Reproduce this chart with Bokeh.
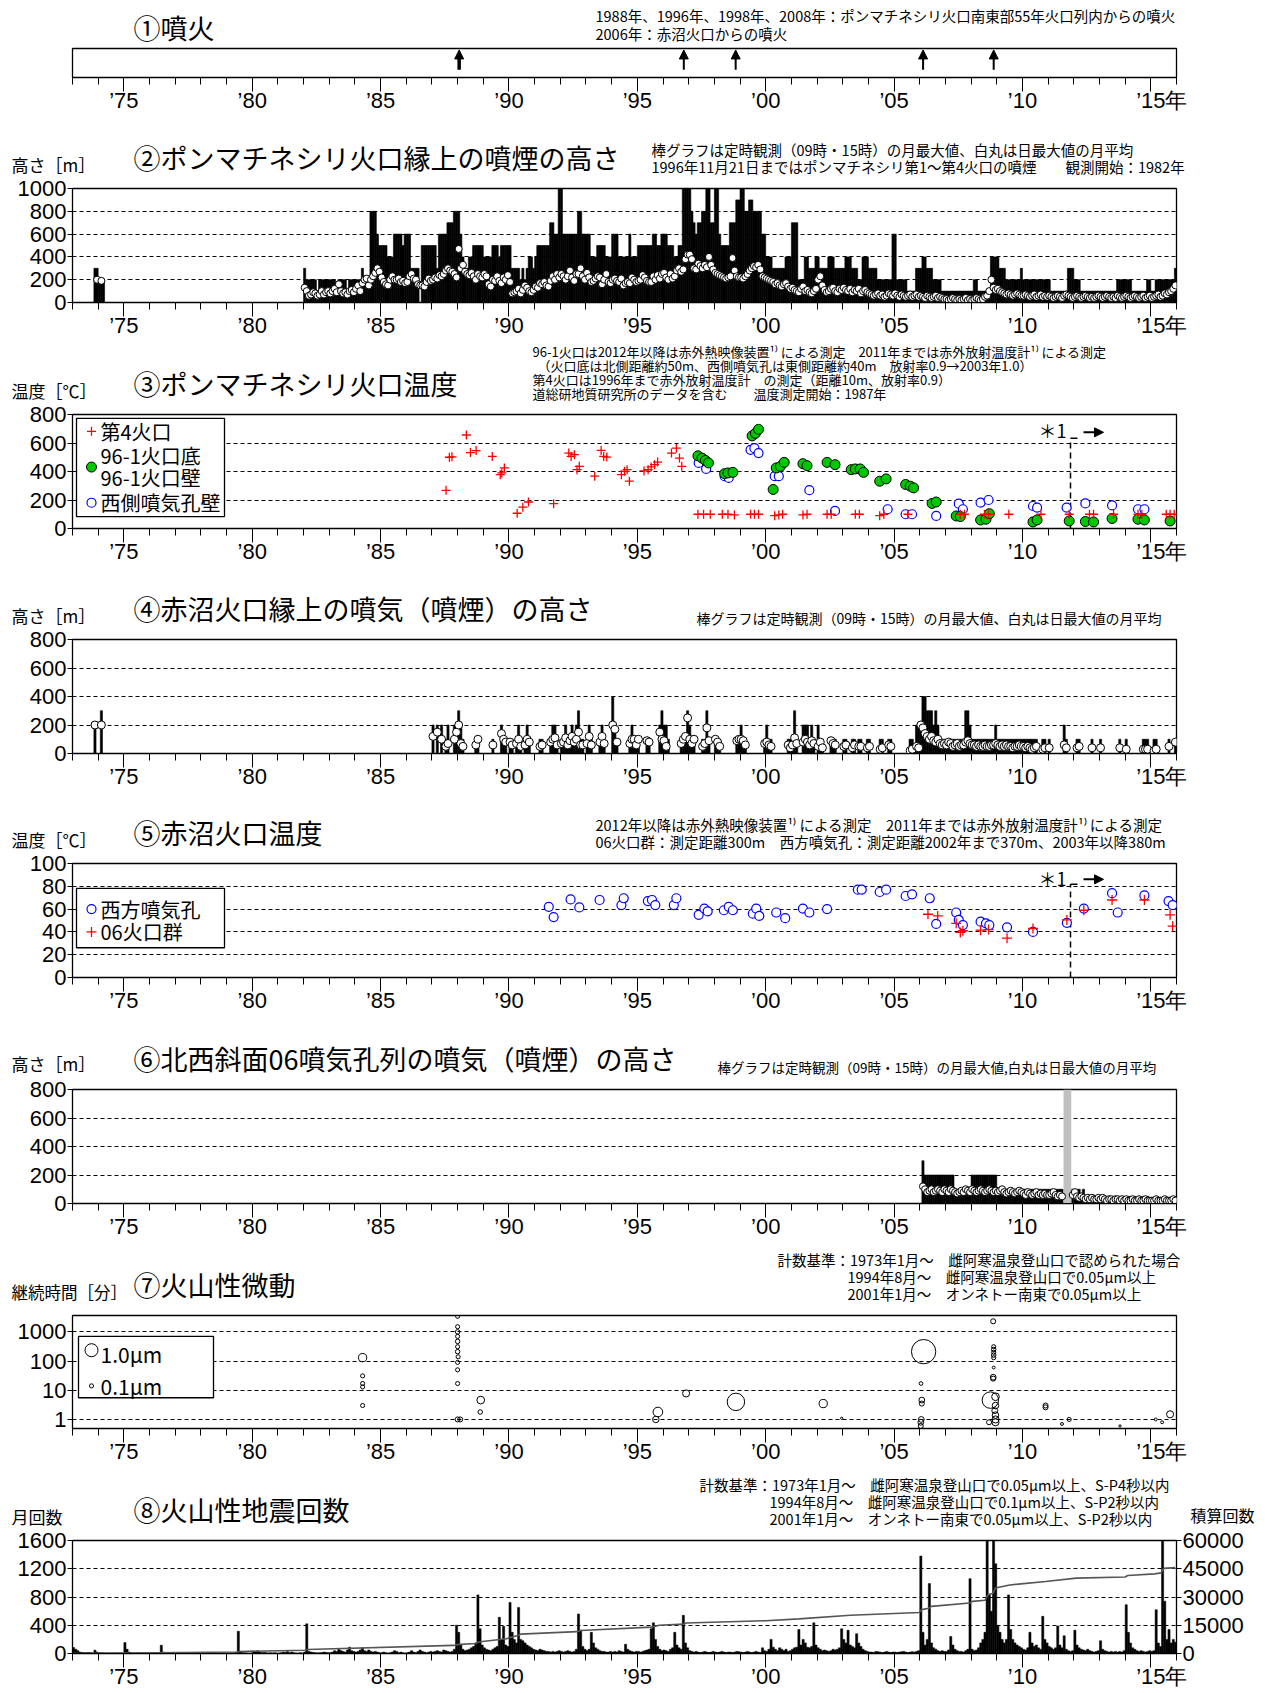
import math
from bokeh.plotting import figure
from bokeh.models import Range1d, FixedTicker, Label, Arrow, NormalHead, LinearAxis
from bokeh.layouts import column
from bokeh.embed import file_html
from bokeh.resources import INLINE

JP = "Noto Sans CJK JP"
NUM = "Liberation Sans"

# ---------------- axis data ----------------
YEARS_MAJOR = [1975, 1980, 1985, 1990, 1995, 2000, 2005, 2010, 2015]
YEAR_LABELS = ["’75", "’80", "’85", "’90", "’95", "’00", "’05", "’10", "　’15年"]
YEARS_MINOR = list(range(1973, 2017))

# ---------------- (1) eruptions ----------------
erupt_t = [1988.06, 1996.81, 1998.83, 2006.13, 2008.88]

# ---------------- (2) Ponmachineshiri plume height (m) ----------------
p2_early_start = 1973 + 10 / 12
p2_early_bar = [300, 300, 200, 200, 200]
p2_early_circ = [0, 200, 0, 190, 0]
p2_start = 1982
p2_bar = [  # hundreds of metres, monthly max
    3, 2, 2, 2, 2, 2, 1, 2, 2, 2, 2, 2,
    2, 2, 2, 1, 2, 2, 2, 2, 1, 2, 2, 2,
    2, 2, 2, 3, 2, 2, 2, 8, 8, 8, 6, 5,
    5, 5, 5, 4, 4, 4, 6, 6, 6, 6, 5, 6,
    6, 6, 3, 3, 3, 3, 0, 5, 5, 5, 5, 5,
    5, 5, 3, 6, 6, 6, 6, 7, 7, 7, 8, 8,
    8, 6, 4, 3, 3, 4, 4, 5, 5, 5, 5, 5,
    4, 4, 4, 4, 5, 5, 5, 4, 5, 5, 5, 5,
    5, 3, 3, 3, 3, 2, 3, 2, 3, 4, 4, 3,
    4, 5, 5, 5, 5, 5, 5, 7, 7, 6, 6, 10,
    10, 6, 6, 6, 6, 6, 6, 6, 8, 8, 6, 6,
    6, 6, 4, 4, 4, 5, 5, 5, 5, 4, 4, 4,
    6, 6, 6, 4, 4, 4, 4, 4, 6, 4, 4, 4,
    5, 5, 5, 5, 5, 5, 5, 6, 6, 5, 5, 6,
    6, 6, 5, 5, 5, 4, 4, 5, 5, 10, 10, 10,
    10, 8, 7, 6, 7, 7, 8, 8, 10, 10, 7, 7,
    10, 10, 6, 5, 5, 5, 5, 7, 7, 7, 9, 9,
    10, 10, 8, 8, 9, 9, 8, 8, 8, 8, 6, 6,
    4, 4, 4, 3, 3, 3, 3, 3, 3, 4, 4, 4,
    7, 7, 7, 2, 2, 2, 4, 4, 3, 3, 3, 4,
    4, 3, 3, 3, 3, 4, 4, 4, 3, 3, 3, 3,
    3, 4, 4, 4, 3, 3, 3, 2, 2, 4, 4, 4,
    3, 3, 3, 3, 2, 2, 2, 2, 2, 2, 2, 6,
    6, 2, 2, 2, 2, 2, 1, 1, 1, 1, 3, 3,
    3, 4, 4, 3, 3, 3, 2, 2, 2, 2, 1, 1,
    1, 1, 1, 1, 1, 1, 1, 1, 1, 1, 1, 1,
    1, 2, 2, 1, 1, 1, 1, 1, 1, 4, 4, 4,
    4, 3, 3, 3, 2, 2, 2, 2, 2, 2, 2, 3,
    2, 2, 2, 2, 2, 2, 2, 2, 2, 2, 2, 2,
    2, 1, 1, 1, 1, 1, 1, 1, 1, 3, 3, 3,
    2, 2, 2, 1, 1, 1, 1, 1, 1, 1, 1, 1,
    1, 1, 1, 1, 1, 1, 1, 1, 2, 2, 2, 2,
    2, 2, 2, 1, 1, 1, 1, 1, 1, 1, 2, 2,
    1, 1, 2, 2, 2, 2, 2, 2, 2, 2, 2, 3,
]
p2_circ = [  # metres, monthly mean of daily max
    130, 100, 60, 70, 90, 80, 60, 70, 100, 70, 90, 100,
    80, 100, 120, 90, 160, 100, 80, 90, 70, 100, 110, 90,
    120, 150, 100, 170, 200, 210, 150, 200, 230, 260, 300, 270,
    220, 180, 160, 150, 200, 230, 200, 200, 210, 180, 190, 170,
    180, 230, 250, 210, 200, 160, 150, 150, 140, 180, 210, 190,
    200, 220, 210, 240, 230, 250, 280, 300, 280, 270, 250, 220,
    470, 300, 330, 270, 250, 240, 260, 230, 200, 250, 230, 220,
    250, 230, 160, 140, 200, 190, 230, 190, 170, 220, 200, 240,
    180, 80, 90, 100, 120, 80, 110, 150, 130, 100, 90, 110,
    140, 130, 170, 160, 180, 150, 140, 190, 230, 200, 250, 220,
    250, 230, 200, 230, 280, 220, 190, 250, 250, 300, 230, 200,
    260, 220, 180, 190, 210, 230, 220, 160, 200, 250, 180, 170,
    200, 210, 190, 180, 210, 150, 170, 180, 170, 220, 200, 180,
    190, 200, 240, 220, 190, 180, 180, 230, 200, 240, 210, 250,
    260, 220, 200, 250, 210, 230, 280, 300, 270, 290, 380, 420,
    420, 380, 300, 290, 340, 320, 300, 330, 310, 400, 330, 290,
    260, 250, 240, 230, 220, 210, 220, 230, 390, 280, 230, 220,
    220, 210, 230, 250, 280, 300, 320, 310, 330, 290, 230, 220,
    210, 200, 190, 180, 160, 170, 150, 140, 160, 170, 140, 120,
    130, 110, 100, 90, 120, 140, 100, 110, 90, 80, 100, 120,
    200, 230, 150, 110, 90, 100, 120, 130, 100, 90, 120, 110,
    130, 110, 100, 120, 90, 110, 100, 120, 80, 100, 110, 90,
    80, 70, 60, 70, 80, 60, 70, 50, 60, 80, 70, 60,
    80, 60, 50, 70, 60, 50, 60, 70, 50, 60, 70, 50,
    60, 50, 40, 60, 50, 40, 50, 60, 40, 50, 40, 30,
    30, 20, 30, 40, 30, 20, 30, 20, 30, 40, 20, 30,
    20, 30, 40, 30, 20, 30, 50, 60, 100, 200, 130, 110,
    120, 100, 90, 80, 70, 80, 70, 60, 70, 80, 70, 60,
    60, 70, 60, 50, 60, 70, 50, 60, 70, 50, 60, 50,
    60, 50, 40, 50, 60, 50, 40, 60, 70, 60, 50, 40,
    50, 60, 50, 40, 50, 60, 50, 40, 50, 40, 50, 60,
    50, 40, 50, 60, 50, 40, 50, 40, 60, 50, 40, 50,
    60, 50, 40, 50, 60, 50, 40, 50, 60, 40, 50, 60,
    40, 50, 60, 70, 50, 60, 80, 70, 90, 100, 120, 150,
]

# ---------------- (3) Ponmachineshiri crater temperature (deg C) ----------------
p3_red_t = [1987.55, 1987.68, 1987.78, 1988.34, 1988.5, 1988.72, 1989.35, 1989.66, 1989.72, 1989.82,
            1990.32, 1990.54, 1990.76, 1991.74, 1992.33, 1992.42, 1992.55, 1992.65, 1992.74, 1993.34,
            1993.59, 1993.69, 1993.81, 1994.38, 1994.5, 1994.6, 1994.69, 1995.26, 1995.42, 1995.54,
            1995.67, 1995.79, 1996.33, 1996.52, 1996.64, 1996.73,
            1997.36, 1997.58, 1997.84, 1998.31, 1998.53, 1998.78, 1999.41, 1999.56, 1999.72, 2000.35,
            2000.51, 2000.66, 2001.45, 2001.61, 2002.39, 2002.55, 2003.49, 2003.65, 2004.44, 2004.6,
            2005.54, 2007.58, 2007.74, 2008.52, 2008.68, 2009.47, 2010.72, 2011.82, 2012.61, 2012.77,
            2013.55, 2014.5, 2014.65, 2015.6, 2015.75, 2015.91]
p3_red_v = [268, 500, 503, 656, 533, 547, 506, 378, 390, 425,
            107, 150, 186, 174, 529, 506, 518, 413, 436, 367,
            548, 506, 501, 378, 401, 413, 332, 404, 413, 432,
            448, 466, 529, 564, 494, 436,
            100, 100, 100, 100, 100, 95, 100, 100, 100, 90,
            95, 100, 95, 100, 100, 100, 100, 100, 90, 100,
            100, 100, 100, 100, 100, 100, 100, 100, 100, 100,
            100, 100, 100, 100, 100, 100]
p3_grn_t = [1997.36, 1997.52, 1997.65, 1997.77, 1998.4, 1998.53, 1998.72, 1999.47, 1999.6, 1999.72,
            2000.29, 2000.41, 2000.57, 2000.72, 2001.45, 2001.61, 2002.39, 2002.7, 2003.33, 2003.49,
            2003.68, 2003.81, 2004.44, 2004.69, 2005.45, 2005.63, 2005.76, 2006.48, 2006.64, 2007.42,
            2007.58, 2008.37, 2008.58, 2008.71, 2010.41, 2010.57, 2011.82, 2012.45, 2012.77, 2013.49,
            2014.5, 2014.75, 2015.75]
p3_grn_v = [510, 494, 478, 460, 385, 390, 394, 650, 668, 696,
            274, 425, 436, 464, 455, 441, 464, 448, 413, 418,
            418, 394, 332, 348, 309, 297, 285, 176, 186, 88,
            84, 60, 65, 104, 46, 60, 53, 49, 46, 70,
            65, 60, 53]
p3_blu_t = [1997.39, 1997.68, 1998.4, 1998.56, 1999.41, 1999.56, 1999.72, 2000.35, 2000.51, 2001.7,
            2002.7, 2004.75, 2005.45, 2005.7, 2006.64, 2007.52, 2007.68, 2008.37, 2008.68, 2010.41,
            2010.57, 2011.72, 2012.45, 2013.49, 2014.5, 2014.75]
p3_blu_v = [460, 418, 367, 355, 552, 564, 529, 367, 367, 269,
            123, 135, 100, 100, 88, 174, 135, 181, 200, 158,
            146, 146, 176, 162, 135, 135]

# ---------------- (4) Akanuma crater plume height (m) ----------------
p4_early_start = 1973 + 10 / 12
p4_early_bar = [200, 0, 0, 300]
p4_early_circ = [200, 0, 0, 200]
p4_start = 1987
p4_bar = [  # hundreds of metres
    2, 0, 2, 0, 2, 0, 1, 2, 0, 0, 2, 2,
    3, 2, 1, 0, 0, 0, 0, 0, 1, 1, 0, 0,
    0, 0, 0, 0, 1, 0, 0, 0, 2, 1, 1, 0,
    1, 1, 0, 1, 2, 1, 0, 1, 2, 1, 0, 0,
    0, 0, 1, 1, 0, 0, 0, 1, 2, 2, 1, 0,
    1, 1, 2, 1, 1, 2, 1, 2, 3, 1, 1, 0,
    1, 2, 1, 0, 0, 0, 1, 2, 1, 0, 0, 0,
    4, 2, 1, 0, 0, 0, 0, 0, 1, 2, 1, 1,
    1, 0, 0, 0, 1, 1, 0, 0, 0, 0, 2, 3,
    2, 2, 1, 0, 0, 0, 0, 0, 1, 1, 1, 3,
    2, 1, 1, 0, 0, 0, 1, 1, 3, 1, 0, 0,
    1, 1, 1, 0, 0, 0, 0, 0, 0, 0, 1, 1,
    2, 1, 1, 0, 0, 0, 0, 0, 0, 0, 0, 1,
    2, 1, 1, 0, 0, 0, 0, 0, 0, 0, 1, 1,
    1, 3, 1, 0, 0, 2, 2, 2, 1, 2, 1, 0,
    2, 1, 1, 0, 0, 0, 1, 1, 1, 0, 0, 0,
    1, 1, 0, 0, 1, 1, 0, 1, 1, 0, 0, 1,
    1, 0, 0, 0, 0, 1, 1, 0, 0, 1, 1, 0,
    0, 0, 0, 0, 0, 0, 0, 1, 1, 0, 2, 2,
    2, 4, 4, 3, 3, 3, 2, 3, 2, 1, 1, 1,
    1, 1, 1, 1, 1, 1, 1, 1, 1, 3, 3, 2,
    1, 1, 1, 1, 1, 1, 1, 1, 1, 1, 1, 2,
    1, 1, 1, 1, 1, 1, 1, 1, 1, 1, 1, 1,
    1, 1, 1, 1, 1, 1, 1, 0, 0, 1, 1, 0,
    1, 0, 0, 0, 0, 0, 0, 2, 1, 0, 0, 0,
    0, 1, 1, 0, 0, 0, 0, 0, 1, 0, 0, 0,
    1, 0, 0, 0, 0, 0, 0, 0, 0, 1, 0, 0,
    1, 0, 0, 0, 0, 0, 0, 0, 1, 1, 1, 0,
    0, 1, 1, 0, 0, 0, 0, 0, 1, 0, 0, 1,
]
p4_circ = [  # metres, 0 = no observation
    120, 0, 150, 0, 100, 0, 50, 70, 0, 0, 100, 150,
    200, 70, 50, 0, 0, 0, 0, 0, 60, 100, 0, 0,
    0, 0, 0, 0, 60, 0, 0, 0, 140, 100, 80, 0,
    80, 60, 0, 70, 100, 50, 0, 60, 100, 80, 0, 0,
    0, 0, 50, 60, 0, 0, 0, 80, 100, 110, 60, 0,
    70, 80, 110, 60, 90, 120, 80, 100, 150, 60, 60, 0,
    70, 120, 60, 0, 0, 0, 80, 120, 70, 0, 0, 0,
    200, 170, 80, 0, 0, 0, 0, 0, 70, 100, 100, 60,
    100, 0, 0, 0, 90, 80, 0, 0, 0, 0, 150, 100,
    90, 50, 0, 0, 0, 0, 0, 0, 70, 100, 120, 250,
    100, 70, 100, 0, 0, 0, 50, 70, 180, 90, 0, 0,
    100, 80, 50, 0, 0, 0, 0, 0, 0, 0, 90, 100,
    100, 90, 60, 0, 0, 0, 0, 0, 0, 0, 0, 70,
    80, 60, 50, 0, 0, 0, 0, 0, 0, 0, 60, 40,
    60, 110, 70, 0, 0, 80, 100, 80, 60, 90, 70, 0,
    50, 80, 40, 0, 0, 0, 90, 70, 60, 0, 0, 0,
    50, 60, 0, 0, 40, 60, 0, 50, 50, 0, 0, 40,
    50, 0, 0, 0, 0, 30, 40, 0, 0, 60, 50, 0,
    0, 0, 0, 0, 0, 0, 0, 20, 30, 0, 50, 40,
    200, 180, 140, 120, 100, 120, 90, 80, 100, 70, 60, 70,
    60, 80, 70, 50, 60, 70, 50, 60, 60, 80, 90, 70,
    60, 60, 50, 60, 50, 50, 60, 50, 50, 60, 60, 70,
    60, 50, 60, 50, 60, 50, 50, 40, 50, 50, 60, 50,
    50, 40, 50, 40, 30, 40, 50, 0, 0, 30, 40, 0,
    40, 0, 0, 0, 0, 0, 0, 60, 40, 0, 0, 0,
    0, 40, 50, 0, 0, 0, 0, 0, 40, 0, 0, 0,
    40, 0, 0, 0, 0, 0, 0, 0, 0, 40, 0, 0,
    30, 0, 0, 0, 0, 0, 0, 0, 30, 30, 30, 0,
    0, 20, 30, 0, 0, 0, 0, 0, 50, 0, 0, 80,
]

# ---------------- (5) Akanuma crater temperature (deg C) ----------------
p5_blu_t = [1991.55, 1991.74, 1992.4, 1992.74, 1993.53, 1994.38, 1994.47, 1995.41, 1995.57, 1995.7,
            1996.42, 1996.52, 1997.39, 1997.61, 1997.74, 1998.37, 1998.56, 1998.72, 1999.5, 1999.63,
            1999.75, 2000.41, 2000.76, 2001.45, 2001.7, 2002.39, 2003.59, 2003.74, 2004.44, 2004.69,
            2005.45, 2005.7, 2006.39, 2006.64, 2007.42, 2007.52, 2007.68, 2008.37, 2008.58, 2008.71,
            2009.4, 2010.41, 2011.73, 2012.39, 2013.49, 2013.71, 2014.75, 2015.69, 2015.85]
p5_blu_v = [62, 53, 68.5, 61.5, 68, 63.5, 69.5, 67, 68, 63.5,
            63.5, 69.5, 55, 60.5, 58, 59, 62, 59, 56, 60.5,
            54, 57, 52, 60.5, 57, 60, 77, 77, 75, 77,
            71.5, 73, 69.5, 47, 57, 50.5, 46, 49, 47.5, 46,
            44, 40, 48, 60.5, 74, 57, 72, 67, 63.5]
p5_red_t = [2006.32, 2006.7, 2007.42, 2007.58, 2007.68, 2008.37, 2008.68, 2009.4, 2010.41, 2011.73,
            2012.39, 2013.49, 2014.75, 2015.75, 2015.85]
p5_red_v = [55.5, 54, 47.5, 39.5, 41, 41.5, 42, 34.5, 43, 50.5,
            59, 68, 68, 55, 45]

# ---------------- (6) NW slope 06 vents plume height (m) ----------------
p6_start = 2006
p6_bar = [
    0, 300, 200, 200, 200, 200, 200, 200, 200, 200, 200, 200,
    200, 200, 200, 200, 100, 100, 100, 100, 100, 100, 100, 100,
    200, 200, 200, 200, 200, 200, 200, 200, 200, 200, 200, 200,
    100, 100, 100, 100, 100, 100, 100, 100, 100, 100, 100, 100,
    100, 100, 100, 100, 100, 100, 100, 100, 100, 100, 100, 100,
    100, 100, 100, 100, 100, 100, 100, 0, 0, 0, 0, 100,
    100, 100, 100, 50, 100, 50, 50, 50, 50, 50, 50, 50,
    50, 50, 50, 50, 50, 50, 50, 50, 50, 50, 50, 50,
    50, 50, 50, 30, 50, 30, 50, 30, 50, 30, 50, 30,
    30, 30, 30, 30, 30, 30, 30, 30, 30, 30, 30, 30,
]
p6_circ = [
    0, 120, 100, 80, 90, 100, 80, 90, 100, 90, 80, 100,
    90, 80, 100, 90, 80, 70, 80, 90, 80, 100, 90, 80,
    100, 90, 80, 90, 100, 90, 80, 90, 100, 90, 80, 90,
    80, 90, 100, 80, 70, 80, 90, 80, 70, 80, 90, 80,
    70, 60, 80, 70, 60, 70, 80, 60, 70, 60, 70, 60,
    60, 70, 80, 60, 50, 60, 50, 0, 0, 0, 0, 60,
    80, 50, 40, 50, 40, 30, 40, 30, 40, 30, 30, 40,
    30, 40, 30, 20, 30, 30, 20, 30, 30, 20, 30, 20,
    30, 20, 20, 30, 20, 20, 30, 20, 20, 30, 20, 20,
    20, 20, 30, 20, 20, 20, 30, 20, 20, 20, 30, 20,
]
p6_gap = [2011.6, 2011.9]

# ---------------- (7) volcanic tremor ----------------
p7_t = [1984.3, 1984.3, 1984.3, 1984.3, 1984.3,
        1988.0, 1988.0, 1988.0, 1988.0, 1988.0, 1988.0, 1988.0, 1988.02, 1988.0, 1988.0, 1988.0, 1988.0, 1988.1,
        1988.9, 1988.88, 1995.8, 1995.72, 1996.9, 1998.84, 2002.24, 2002.96,
        2006.15, 2006.05, 2006.08, 2006.08, 2006.06, 2006.04, 2006.04,
        2008.86, 2008.88, 2008.88, 2008.88, 2008.88, 2008.88, 2008.88, 2008.86, 2008.86, 2008.75,
        2008.95, 2008.95, 2008.95, 2008.95, 2008.95, 2008.7, 2008.92,
        2010.9, 2010.9, 2011.54, 2011.82, 2013.8, 2015.19, 2015.44, 2015.75]
p7_dur = [131, 31, 17, 13, 3,
          3400, 1500, 1000, 700, 470, 310, 210, 140, 90, 50, 17, 1, 1,
          4.6, 1.8, 1.8, 1.0, 7.8, 4.0, 3.5, 1.1,
          210, 17, 4.6, 3.5, 1.0, 0.8, 0.6,
          2300, 310, 250, 200, 160, 130, 60, 28, 25, 4.6,
          6, 3, 1.4, 1.0, 0.8, 0.8, 2,
          3, 2.6, 0.7, 1.0, 0.6, 1.0, 0.8, 1.5]
p7_amp = [0.4, 0.1, 0.1, 0.1, 0.1,
          0.1, 0.1, 0.12, 0.1, 0.12, 0.1, 0.12, 0.1, 0.1, 0.1, 0.1, 0.15, 0.15,
          0.35, 0.12, 0.55, 0.25, 0.3, 1.8, 0.4, 0.03,
          3.5, 0.08, 0.2, 0.15, 0.2, 0.2, 0.15,
          0.15, 0.1, 0.12, 0.1, 0.12, 0.1, 0.05, 0.2, 0.15, 1.6,
          0.35, 0.25, 0.25, 0.3, 0.3, 0.15, 0.2,
          0.15, 0.15, 0.05, 0.1, 0.03, 0.05, 0.05, 0.3]

# ---------------- (8) volcanic earthquakes ----------------
p8_start = 1973
p8_month = [
    84, 60, 40, 20, 15, 10, 10, 15, 10, 8, 47, 20,
    10, 10, 8, 5, 5, 5, 8, 5, 5, 5, 5, 5,
    154, 60, 20, 10, 8, 8, 10, 5, 5, 5, 5, 5,
    10, 8, 8, 5, 5, 117, 20, 10, 5, 5, 5, 5,
    5, 5, 5, 5, 5, 5, 5, 5, 5, 5, 5, 5,
    5, 5, 5, 5, 5, 8, 5, 5, 5, 5, 5, 5,
    5, 5, 8, 10, 15, 315, 30, 10, 10, 8, 5, 5,
    20, 30, 40, 20, 10, 15, 10, 5, 10, 5, 10, 5,
    5, 10, 20, 15, 30, 10, 20, 10, 5, 5, 10, 5,
    20, 420, 30, 20, 15, 10, 8, 10, 10, 20, 15, 10,
    10, 20, 40, 30, 60, 40, 30, 20, 50, 90, 40, 30,
    20, 30, 50, 80, 40, 30, 50, 30, 20, 30, 20, 10,
    10, 20, 10, 5, 10, 20, 40, 30, 10, 20, 10, 5,
    10, 20, 40, 20, 10, 30, 50, 30, 20, 10, 20, 30,
    20, 30, 40, 30, 20, 50, 40, 30, 20, 30, 60, 400,
    300, 120, 60, 40, 50, 60, 80, 100, 150, 830, 350, 120,
    80, 60, 50, 40, 60, 80, 100, 513, 200, 387, 120, 100,
    723, 300, 200, 150, 653, 200, 180, 150, 120, 100, 80, 60,
    50, 40, 60, 50, 40, 30, 30, 20, 30, 20, 30, 40,
    30, 20, 30, 40, 30, 20, 30, 60, 560, 330, 100, 60,
    40, 60, 300, 150, 80, 60, 40, 30, 30, 20, 20, 30,
    20, 30, 20, 40, 30, 20, 130, 60, 40, 30, 20, 30,
    30, 20, 30, 40, 50, 60, 350, 434, 200, 100, 60, 40,
    50, 40, 30, 60, 80, 300, 120, 80, 60, 540, 150, 80,
    40, 30, 20, 30, 20, 15, 20, 30, 20, 15, 20, 30,
    20, 15, 20, 30, 20, 15, 20, 20, 15, 20, 30, 25,
    20, 15, 20, 30, 20, 15, 20, 30, 20, 15, 80, 40,
    30, 60, 200, 90, 60, 40, 80, 60, 40, 60, 30, 40,
    60, 80, 90, 340, 120, 200, 150, 90, 80, 100, 434, 120,
    80, 60, 40, 50, 40, 30, 40, 60, 50, 60, 80, 350,
    200, 150, 330, 120, 100, 80, 280, 150, 100, 60, 40, 30,
    20, 20, 15, 30, 25, 20, 15, 20, 30, 20, 15, 20,
    20, 15, 20, 25, 30, 20, 15, 20, 25, 20, 30, 40,
    1380, 300, 120, 200, 990, 150, 80, 60, 40, 30, 40, 30,
    30, 50, 240, 120, 60, 40, 30, 30, 20, 40, 60, 1060,
    60, 40, 50, 80, 150, 200, 300, 2800, 830, 600, 3000, 1270,
    400, 300, 200, 150, 200, 830, 340, 200, 150, 120, 100, 80,
    60, 50, 80, 300, 150, 100, 120, 80, 60, 526, 200, 150,
    100, 80, 60, 80, 390, 120, 80, 250, 60, 40, 30, 40,
    330, 120, 80, 60, 50, 40, 60, 40, 30, 20, 30, 40,
    180, 60, 40, 30, 20, 30, 20, 30, 20, 30, 20, 40,
    690, 300, 150, 80, 60, 40, 30, 40, 30, 20, 30, 40,
    30, 40, 620, 150, 100, 2000, 740, 200, 340, 150, 200, 160,
]
p8_cum_t = [1973.0, 1979.4, 1979.5, 1982.05, 1982.15, 1987.85, 1987.95, 1988.7, 1988.8, 1989.9,
            1990.1, 1990.35, 1990.45, 1992.65, 1992.8, 1995.55, 1995.85, 1996.8, 1996.9, 2000.0,
            2001.3, 2003.3, 2005.98, 2006.08, 2006.35, 2006.45, 2007.95, 2008.05, 2008.55, 2008.65,
            2008.85, 2008.95, 2009.5, 2010.9, 2012.1, 2014.0, 2014.1, 2015.15, 2015.4, 2015.5, 2015.95]
p8_cum_v = [0, 800, 1100, 1700, 2100, 4300, 4700, 5300, 6100, 7800,
            8700, 9600, 10300, 11600, 12200, 14000, 15000, 15600, 16200, 17400,
            18400, 20300, 21800, 23300, 24000, 25000, 26800, 27700, 28300, 31000,
            32000, 34800, 36400, 38200, 40000, 40600, 41400, 42300, 42800, 45200, 45600]

# ---------------- layout (page pixels, origin top-left) ----------------
X0, X1 = 1973.0, 2016.0
FL, FR = 72, 1176          # frame left/right
W = 1260
GEOM = {  # block top, frame top, frame bottom, block bottom, gap kept above frame
    1: (0, 48, 78, 115, 2),
    2: (115, 188, 303, 340, 12),
    3: (340, 414, 529, 566, 12),
    4: (566, 639, 754, 791, 12),
    5: (791, 863, 978, 1015, 12),
    6: (1015, 1089, 1204, 1241, 12),
    7: (1241, 1315, 1429, 1466, 12),
    8: (1466, 1540, 1654, 1691, 12),
}
TICK_FONT = "22px"


def monthly(start, vals):
    t, v = [], []
    for i, val in enumerate(vals):
        if val > 0:
            t.append(start + (i + 0.5) / 12)
            v.append(val)
    return t, v


def style_y(ya):
    ya.major_tick_out = 5
    ya.major_tick_in = 0
    ya.minor_tick_out = 0
    ya.minor_tick_in = 0
    ya.major_label_standoff = 1
    ya.major_label_text_font = NUM
    ya.major_label_text_font_size = TICK_FONT
    ya.major_label_text_color = "black"
    ya.axis_line_color = "black"
    ya.major_tick_line_color = "black"


def make_header(top, bottom):
    h = figure(width=W, height=bottom - top, x_range=Range1d(0, W), y_range=Range1d(bottom, top),
               output_backend="svg", toolbar_location=None, title=None,
               x_axis_location=None, y_axis_location=None,
               min_border_left=0, min_border_right=0, min_border_top=0, min_border_bottom=0)
    h.outline_line_color = None
    h.background_fill_color = "white"
    h.border_fill_color = "white"
    for g in h.grid:
        g.visible = False
    return h


class Panel:
    def __init__(self, key, y0, y1, yticks=None, log=False, ytick_labels=None):
        top, FT, FB, bot, gap = GEOM[key]
        self.FT, self.FB, self.y0, self.y1, self.log = FT, FB, y0, y1, log
        self.head = make_header(top, FT - gap)
        p = figure(width=W, height=bot - (FT - gap), x_range=Range1d(X0, X1), y_range=Range1d(y0, y1),
                   y_axis_type="log" if log else "linear", output_backend="svg",
                   toolbar_location=None, title=None,
                   min_border_left=FL, min_border_right=W - FR,
                   min_border_top=gap, min_border_bottom=bot - FB)
        p.background_fill_color = "white"
        p.border_fill_color = "white"
        p.outline_line_color = "black"
        p.outline_line_width = 1.3
        xa = p.xaxis[0]
        xa.ticker = FixedTicker(ticks=YEARS_MAJOR, minor_ticks=YEARS_MINOR)
        xa.major_label_overrides = dict(zip(YEARS_MAJOR, YEAR_LABELS))
        xa.major_tick_out = 14
        xa.major_tick_in = 0
        xa.minor_tick_out = 7
        xa.minor_tick_in = 0
        xa.major_label_standoff = -4
        xa.major_label_text_font = NUM
        xa.major_label_text_font_size = TICK_FONT
        xa.major_label_text_color = "black"
        xa.axis_line_color = "black"
        xa.major_tick_line_color = "black"
        xa.minor_tick_line_color = "black"
        p.xgrid.visible = False
        ya = p.yaxis[0]
        if yticks is not None:
            ya.ticker = FixedTicker(ticks=yticks, minor_ticks=[])
            if ytick_labels is not None:
                ya.major_label_overrides = dict(zip(yticks, ytick_labels))
        style_y(ya)
        p.ygrid.grid_line_color = "black"
        p.ygrid.grid_line_dash = "4 3"
        p.ygrid.grid_line_width = 1
        self.p = p

    def x(self, px):
        return X0 + (px - FL) * (X1 - X0) / (FR - FL)

    def y(self, py):
        f = (self.FB - py) / (self.FB - self.FT)
        if self.log:
            a, b = math.log10(self.y0), math.log10(self.y1)
            return 10 ** (a + f * (b - a))
        return self.y0 + f * (self.y1 - self.y0)

    def text(self, px, py, s, size, font=JP):
        # header text, placed in page pixels
        self.head.add_layout(Label(x=px, y=py, text=s, text_font=font,
                                   text_font_size=f"{size}px", text_align="left",
                                   text_baseline="middle", text_color="black"))

    def dtext(self, px, py, s, size, font=JP):
        self.p.add_layout(Label(x=self.x(px), y=self.y(py), text=s, text_font=font,
                                text_font_size=f"{size}px", text_align="left",
                                text_baseline="middle", text_color="black"))

    def box(self, l, r, t, b):
        self.p.quad(left=[self.x(l)], right=[self.x(r)], top=[self.y(t)], bottom=[self.y(b)],
                    fill_color="white", line_color="black", line_width=1.3)


def star_marker(P, top_py, star_py, arrow_py):
    xv = P.x(1070)
    P.p.segment(x0=[xv], y0=[P.y0], x1=[xv], y1=[P.y(top_py)], line_color="black",
                line_dash="6 4", line_width=1.5)
    P.p.segment(x0=[xv], y0=[P.y(top_py)], x1=[P.x(1077)], y1=[P.y(top_py)], line_color="black",
                line_width=1.5)
    P.p.add_layout(Arrow(end=NormalHead(size=9, fill_color="black", line_color="black"),
                         x_start=P.x(1083), y_start=P.y(arrow_py), x_end=P.x(1103), y_end=P.y(arrow_py),
                         line_color="black", line_width=2))
    P.dtext(1038, star_py, "＊1", 18)


NOTE = 14.5
TITLE = 27
YLAB = 17

# ---------- panel 1 ----------
P1 = Panel(1, 0, 1)
P1.p.yaxis.visible = False
P1.p.ygrid.visible = False
for i, t in enumerate(erupt_t):
    P1.p.add_layout(Arrow(end=NormalHead(size=9, fill_color="black", line_color="black"),
                          x_start=t, y_start=P1.y(70), x_end=t, y_end=P1.y(49.5),
                          line_color="black", line_width=3.5 if i == 0 else 2))
P1.text(133, 27, "①噴火", TITLE)
P1.text(595, 15, "1988年、1996年、1998年、2008年：ポンマチネシリ火口南東部55年火口列内からの噴火", NOTE)
P1.text(595, 33, "2006年：赤沼火口からの噴火", NOTE)

# ---------- panel 2 ----------
P2 = Panel(2, 0, 1000, [0, 200, 400, 600, 800, 1000])
et, ev = monthly(p2_early_start, p2_early_bar)
bt, bv = monthly(p2_start, p2_bar)
P2.p.vbar(x=et + bt, top=ev + [v * 100 for v in bv], width=1 / 12, fill_color="black",
          line_color="black", line_width=0.6)
ect, ecv = monthly(p2_early_start, p2_early_circ)
ct, cv = monthly(p2_start, p2_circ)
P2.p.scatter(ect + ct, ecv + cv, marker="circle", size=7, fill_color="white", line_color="black",
             line_width=1)
P2.text(11, 164, "高さ［m］", YLAB)
P2.text(133, 157, "②ポンマチネシリ火口縁上の噴煙の高さ", TITLE)
P2.text(651, 149, "棒グラフは定時観測（09時・15時）の月最大値、白丸は日最大値の月平均", NOTE)
P2.text(651, 166, "1996年11月21日まではポンマチネシリ第1～第4火口の噴煙　　観測開始：1982年", NOTE)

# ---------- panel 3 ----------
P3 = Panel(3, 0, 800, [0, 200, 400, 600, 800])
star_marker(P3, 438, 430, 432)
P3.p.scatter(p3_blu_t, p3_blu_v, marker="circle", size=9, fill_color="white", line_color="#0000ff",
             line_width=1.2)
P3.p.scatter(p3_grn_t, p3_grn_v, marker="circle", size=10, fill_color="#00c800", line_color="black",
             line_width=1)
P3.p.scatter(p3_red_t, p3_red_v, marker="cross", size=9, line_color="#ff0000", line_width=1.3)
P3.box(76, 224, 418, 517)
P3.p.scatter([P3.x(91)], [P3.y(431)], marker="cross", size=9, line_color="#ff0000", line_width=1.3)
P3.p.scatter([P3.x(91)], [P3.y(467)], marker="circle", size=10, fill_color="#00c800",
             line_color="black")
P3.p.scatter([P3.x(91)], [P3.y(503)], marker="circle", size=9, fill_color="white",
             line_color="#0000ff", line_width=1.2)
P3.dtext(100, 431, "第4火口", 20)
P3.dtext(100, 455, "96-1火口底", 20)
P3.dtext(100, 478, "96-1火口壁", 20)
P3.dtext(100, 503, "西側噴気孔壁", 20)
P3.text(11, 390, "温度［℃］", YLAB)
P3.text(133, 383, "③ポンマチネシリ火口温度", TITLE)
P3.text(532, 350.5, "96-1火口は2012年以降は赤外熱映像装置¹⁾ による測定　2011年までは赤外放射温度計¹⁾ による測定", 13)
P3.text(537, 364.7, "（火口底は北側距離約50m、西側噴気孔は東側距離約40m　放射率0.9→2003年1.0）", 13)
P3.text(532, 378.9, "第4火口は1996年まで赤外放射温度計　の測定（距離10m、放射率0.9）", 13)
P3.text(532, 393, "道総研地質研究所のデータを含む　　温度測定開始：1987年", 13)

# ---------- panel 4 ----------
P4 = Panel(4, 0, 800, [0, 200, 400, 600, 800])
et, ev = monthly(p4_early_start, p4_early_bar)
bt, bv = monthly(p4_start, p4_bar)
P4.p.vbar(x=et + bt, top=ev + [v * 100 for v in bv], width=1 / 12, fill_color="black",
          line_color="black", line_width=0.6)
ect, ecv = monthly(p4_early_start, p4_early_circ)
ct, cv = monthly(p4_start, p4_circ)
P4.p.scatter(ect + ct, ecv + cv, marker="circle", size=8, fill_color="white", line_color="black",
             line_width=1)
P4.text(11, 615, "高さ［m］", YLAB)
P4.text(133, 608, "④赤沼火口縁上の噴気（噴煙）の高さ", TITLE)
P4.text(696, 617, "棒グラフは定時観測（09時・15時）の月最大値、白丸は日最大値の月平均", 14)

# ---------- panel 5 ----------
P5 = Panel(5, 0, 100, [0, 20, 40, 60, 80, 100])
star_marker(P5, 884, 878, 879)
P5.p.scatter(p5_blu_t, p5_blu_v, marker="circle", size=9, fill_color="white", line_color="#0000ff",
             line_width=1.2)
P5.p.scatter(p5_red_t, p5_red_v, marker="cross", size=10, line_color="#ff0000", line_width=1.3)
P5.box(76, 224, 888, 948)
P5.p.scatter([P5.x(91)], [P5.y(909)], marker="circle", size=9, fill_color="white",
             line_color="#0000ff", line_width=1.2)
P5.p.scatter([P5.x(91)], [P5.y(932)], marker="cross", size=10, line_color="#ff0000", line_width=1.3)
P5.dtext(100, 909, "西方噴気孔", 20)
P5.dtext(100, 932, "06火口群", 20)
P5.text(11, 839, "温度［℃］", YLAB)
P5.text(133, 832, "⑤赤沼火口温度", TITLE)
P5.text(595, 824, "2012年以降は赤外熱映像装置¹⁾ による測定　2011年までは赤外放射温度計¹⁾ による測定", NOTE)
P5.text(595, 841, "06火口群：測定距離300m　西方噴気孔：測定距離2002年まで370m、2003年以降380m", NOTE)

# ---------- panel 6 ----------
P6 = Panel(6, 0, 800, [0, 200, 400, 600, 800])
bt, bv = monthly(p6_start, p6_bar)
P6.p.vbar(x=bt, top=bv, width=1 / 12, fill_color="black", line_color="black", line_width=0.6)
P6.p.quad(left=[p6_gap[0]], right=[p6_gap[1]], bottom=[0], top=[800], fill_color="#c0c0c0",
          line_color=None)
ct, cv = monthly(p6_start, p6_circ)
P6.p.scatter(ct, cv, marker="circle", size=7, fill_color="white", line_color="black", line_width=1)
P6.text(11, 1063, "高さ［m］", YLAB)
P6.text(133, 1058, "⑥北西斜面06噴気孔列の噴気（噴煙）の高さ", TITLE)
P6.text(717, 1066, "棒グラフは定時観測（09時・15時）の月最大値,白丸は日最大値の月平均", 13.5)

# ---------- panel 7 ----------
P7 = Panel(7, 0.49, 3630, [1, 10, 100, 1000], log=True, ytick_labels=["1", "10", "100", "1000"])
P7.p.scatter(p7_t, p7_dur, marker="circle", size=[13 * math.sqrt(a) for a in p7_amp],
             fill_color=None, line_color="black", line_width=1)
P7.box(78, 213, 1336, 1398)
P7.p.scatter([P7.x(91)], [P7.y(1350)], marker="circle", size=13, fill_color=None,
             line_color="black")
P7.p.scatter([P7.x(91)], [P7.y(1386)], marker="circle", size=13 * math.sqrt(0.1), fill_color=None,
             line_color="black")
P7.dtext(100, 1354, "1.0μm", 21)
P7.dtext(100, 1386, "0.1μm", 21)
P7.text(11, 1291, "継続時間［分］", 16.5)
P7.text(133, 1284, "⑦火山性微動", TITLE)
P7.text(777, 1259, "計数基準：1973年1月～　雌阿寒温泉登山口で認められた場合", NOTE)
P7.text(847, 1276, "1994年8月～　雌阿寒温泉登山口で0.05μm以上", NOTE)
P7.text(847, 1293, "2001年1月～　オンネトー南東で0.05μm以上", NOTE)

# ---------- panel 8 ----------
P8 = Panel(8, 0, 1600, [0, 400, 800, 1200, 1600])
P8.p.extra_y_ranges = {"cum": Range1d(0, 60000)}
bt, bv = monthly(p8_start, p8_month)
P8.p.vbar(x=bt, top=bv, width=1 / 12, fill_color="black", line_color="black", line_width=0.5)
P8.p.line(p8_cum_t, p8_cum_v, y_range_name="cum", line_color="#555555", line_width=1.6)
ra = LinearAxis(y_range_name="cum", ticker=FixedTicker(ticks=[0, 15000, 30000, 45000, 60000], minor_ticks=[]))
style_y(ra)
P8.p.add_layout(ra, "right")
P8.text(11, 1516, "月回数", YLAB)
P8.text(1190, 1514, "積算回数", 16)
P8.text(133, 1509, "⑧火山性地震回数", TITLE)
P8.text(699, 1484, "計数基準：1973年1月～　雌阿寒温泉登山口で0.05μm以上、S-P4秒以内", NOTE)
P8.text(769, 1501, "1994年8月～　雌阿寒温泉登山口で0.1μm以上、S-P2秒以内", NOTE)
P8.text(769, 1518, "2001年1月～　オンネトー南東で0.05μm以上、S-P2秒以内", NOTE)

# each figure sits in its own column so the header frames are not aligned to the chart frames
items = []
for P in (P1, P2, P3, P4, P5, P6, P7, P8):
    items.append(column(P.head, spacing=0))
    items.append(column(P.p, spacing=0))
layout = column(items, spacing=0)
open("out.html", "w").write(file_html(layout, INLINE))
